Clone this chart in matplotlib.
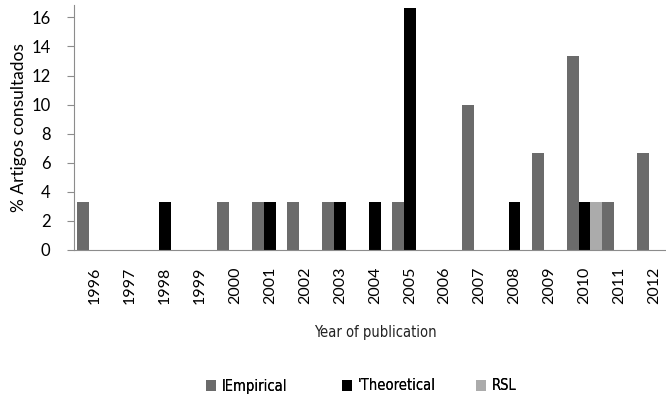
import numpy as np
import matplotlib.pyplot as plt

# datos: porcentaje de artigos por ano (30 artigos, 1 artigo = 3.33 %)
anos = [str(a) for a in range(1996, 2013)]
empirical = [3.33, 0, 0, 0, 3.33, 3.33, 3.33, 3.33, 0, 3.33, 0, 10.0, 0, 6.67, 13.33, 3.33, 6.67]
theoretical = [0, 0, 3.33, 0, 0, 3.33, 0, 3.33, 3.33, 16.67, 0, 0, 3.33, 0, 3.33, 0, 0]
rsl = [0, 0, 0, 0, 0, 0, 0, 0, 0, 0, 0, 0, 0, 0, 3.33, 0, 0]

c_emp = "#6b6b6b"
c_teo = "#000000"
c_rsl = "#ababab"
c_eixo = "#8c8c8c"
fonte_estreita = dict(family="DejaVu Sans", stretch="condensed")

fig = plt.figure(figsize=(6.66, 3.97), dpi=100)
ax = fig.add_axes([74 / 666, 1 - 250 / 397, (665 - 74) / 666, 245 / 397])

x = np.arange(len(anos))
w = 0.335
b1 = ax.bar(x - w, empirical, w, color=c_emp, label="IEmpirical")
b2 = ax.bar(x, theoretical, w, color=c_teo, label="'Theoretical")
b3 = ax.bar(x + w, rsl, w, color=c_rsl, label="RSL")

ax.set_xlim(-0.6, 16.3)
ax.set_ylim(0, 16.85)
ax.set_yticks(np.arange(0, 17, 2))
ax.set_xticks(x)
ax.set_xticklabels(anos, rotation=90, fontsize=11.5, family="Lato")
for t in ax.get_yticklabels():
    t.set_fontsize(12)
    t.set_family("Lato")

for s in ["top", "right"]:
    ax.spines[s].set_visible(False)
ax.spines["left"].set_color(c_eixo)
ax.spines["bottom"].set_color(c_eixo)
ax.tick_params(axis="y", length=5, color=c_eixo, pad=12)
ax.tick_params(axis="x", length=0, pad=12)

ax.set_ylabel("% Artigos consultados", fontsize=12.5, family="Lato", labelpad=3)

fig.text(0.563, 1 - 333 / 397, "Year of publication", ha="center", va="center",
         fontsize=10.5, color="#222222", **fonte_estreita)

# legenda: tres entradas com largura igual, como no Excel
for h, xl in zip([b1, b2, b3], [206, 342, 476]):
    lg = fig.legend(handles=[h], loc="center left", bbox_to_anchor=(xl / 666, 1 - 386 / 397),
                    frameon=False, borderpad=0, borderaxespad=0, handlelength=0.7,
                    handleheight=0.7, handletextpad=0.4, prop=dict(size=10.5, **fonte_estreita))
    fig.add_artist(lg)

plt.savefig("out.png", dpi=100)
